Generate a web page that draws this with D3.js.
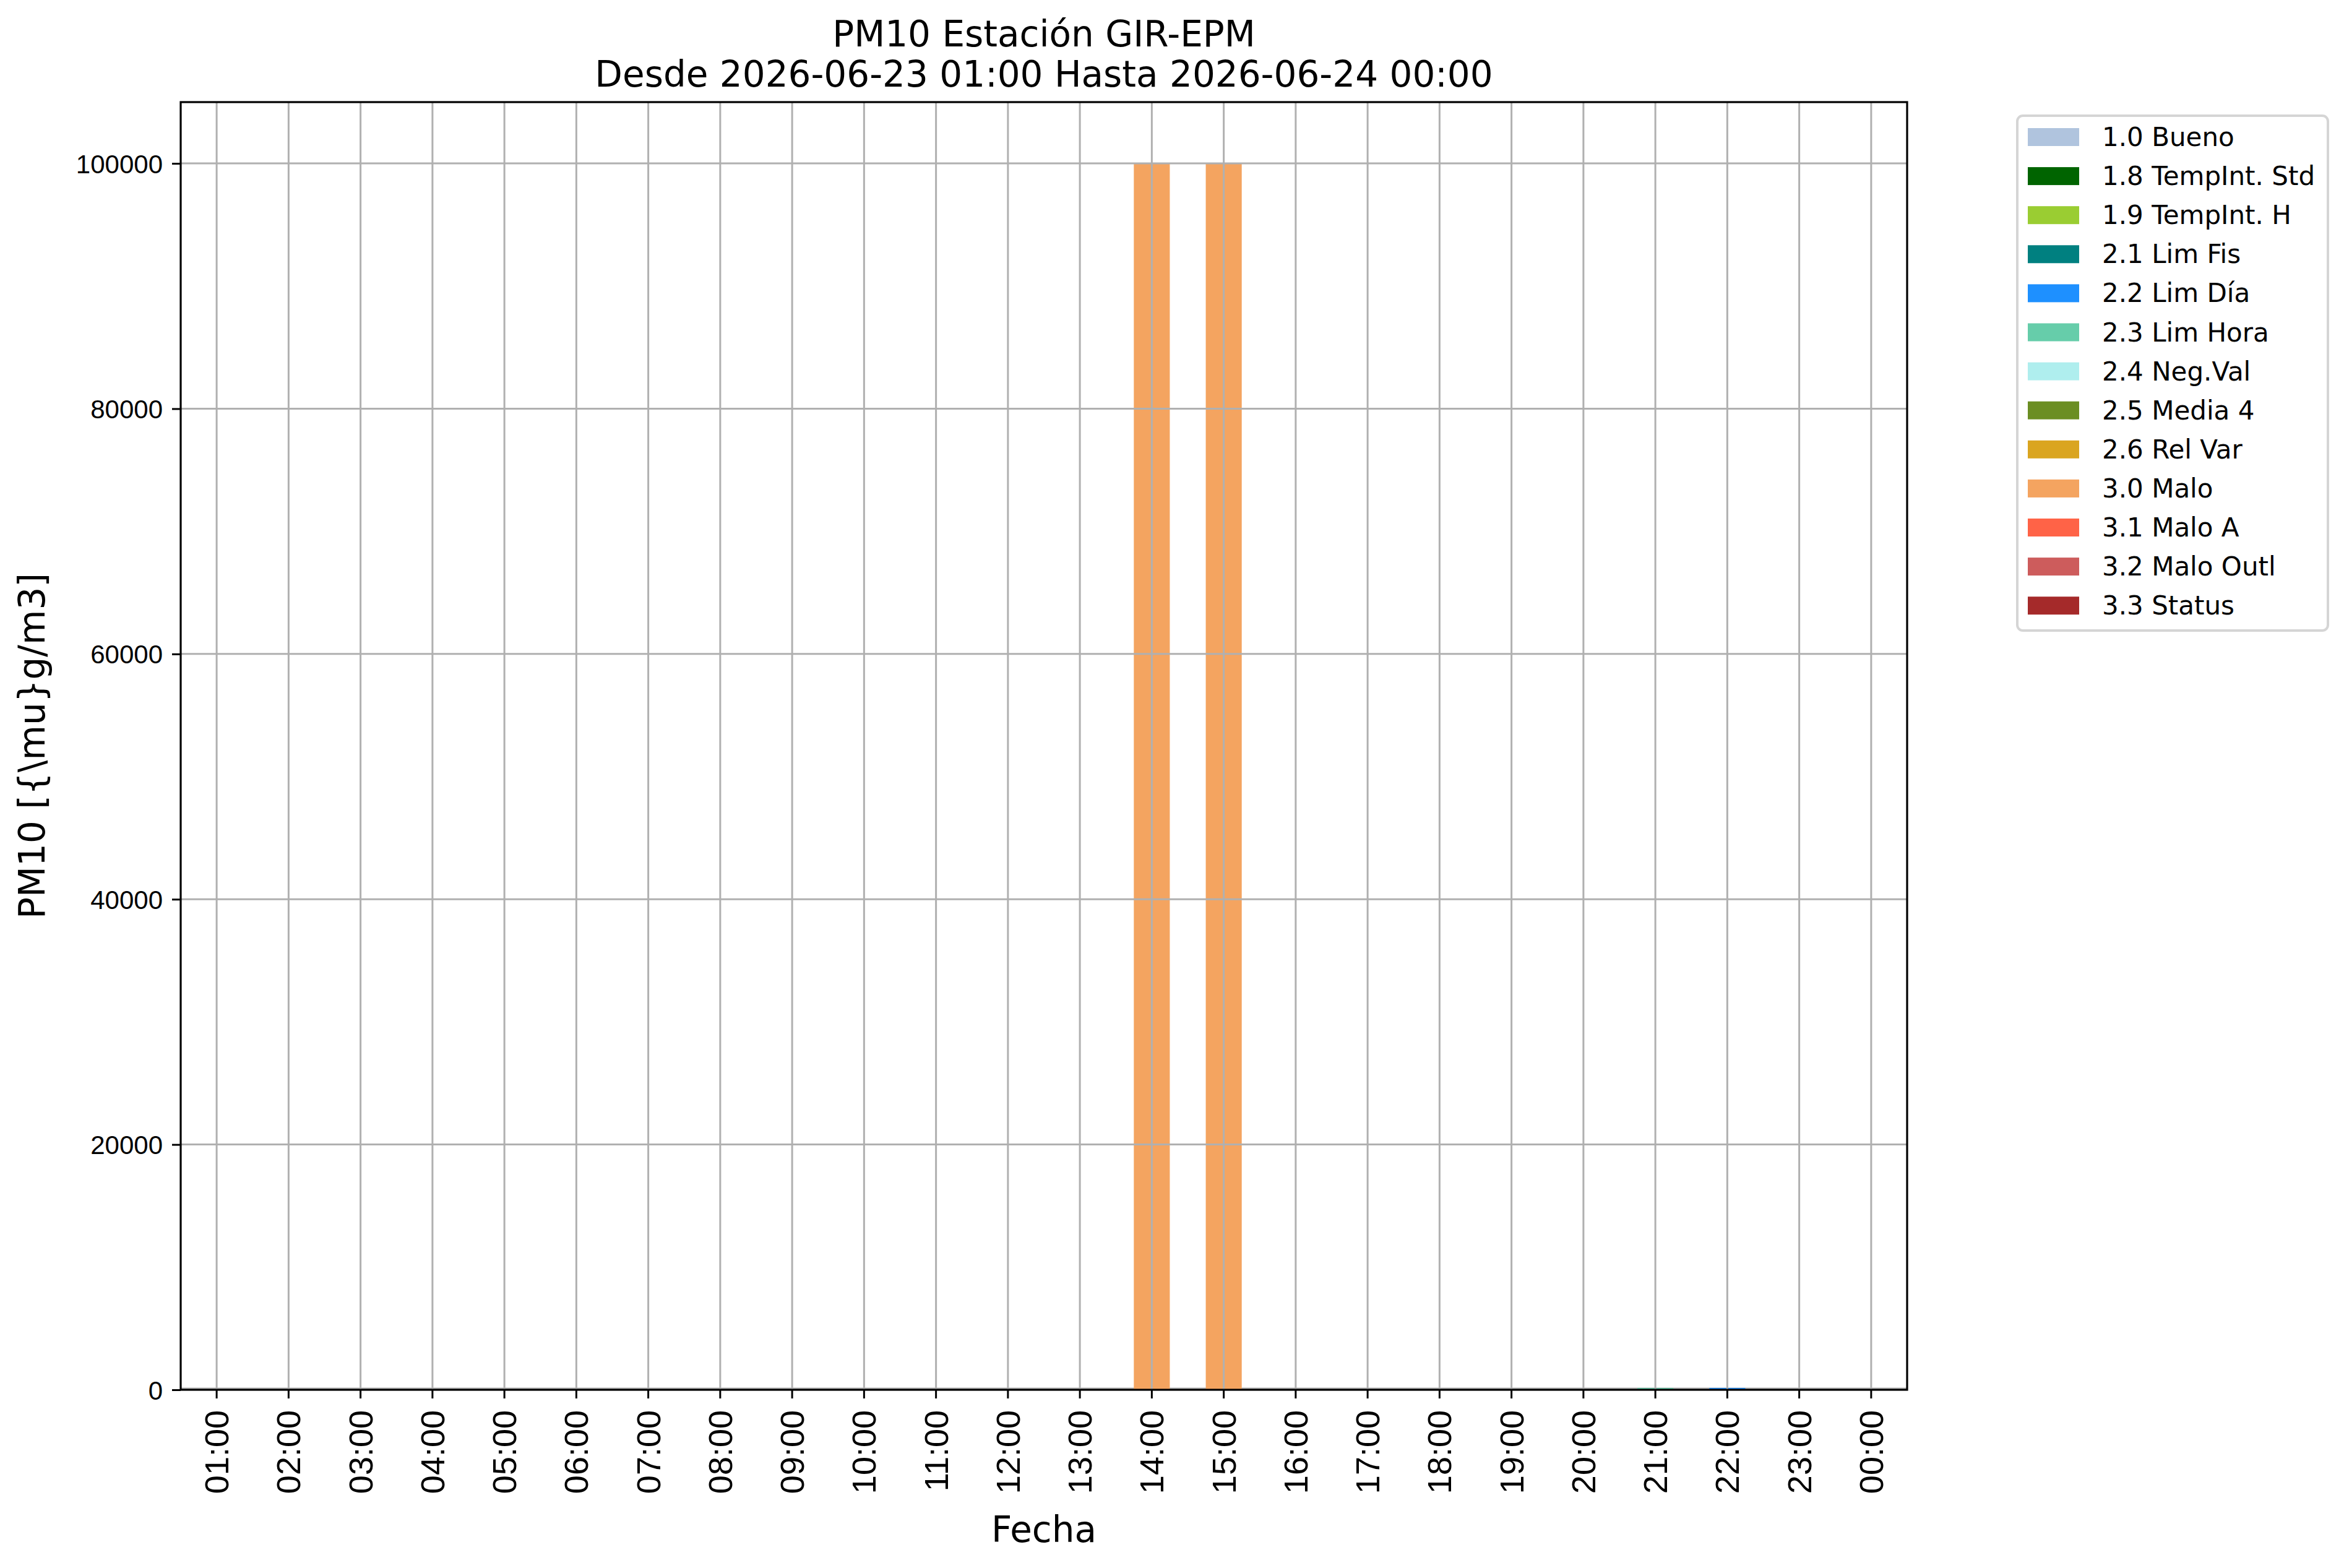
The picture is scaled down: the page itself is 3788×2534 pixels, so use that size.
<!DOCTYPE html>
<html>
<head>
<meta charset="utf-8">
<script src="https://cdn.jsdelivr.net/npm/d3@7"></script>
<style>
  html, body { margin: 0; padding: 0; background: #ffffff; }
  svg { display: block; font-family: "DejaVu Sans", sans-serif; }
</style>
</head>
<body>
<script>
// ---------------- DATA ----------------
const hours = ["01:00","02:00","03:00","04:00","05:00","06:00","07:00","08:00","09:00","10:00","11:00","12:00",
               "13:00","14:00","15:00","16:00","17:00","18:00","19:00","20:00","21:00","22:00","23:00","00:00"];

const seriesNames = ["1.0 Bueno","1.8 TempInt. Std","1.9 TempInt. H","2.1 Lim Fis","2.2 Lim Día","2.3 Lim Hora",
                     "2.4 Neg.Val","2.5 Media 4","2.6 Rel Var","3.0 Malo","3.1 Malo A","3.2 Malo Outl","3.3 Status"];

const seriesColors = ["#B0C4DE","#006400","#9ACD32","#008080","#1E90FF","#66CDAA",
                      "#AFEEEE","#6B8E23","#DAA520","#F4A460","#FF6347","#CD5C5C","#A52A2A"];

const bueno      = [0,0,0,0,0,0,0,0,0,0,0,0,0,0,0,0,0,0,0,0,0,0,0,0];
const tempIntStd = [0,0,0,0,0,0,0,0,0,0,0,0,0,0,0,0,0,0,0,0,0,0,0,0];
const tempIntH   = [0,0,0,0,0,0,0,0,0,0,0,0,0,0,0,0,0,0,0,0,0,0,0,0];
const limFis     = [0,0,0,0,0,0,0,0,0,0,0,0,0,0,0,0,0,0,0,0,0,0,0,0];
const limDia     = [0,0,0,0,0,0,0,0,0,0,0,0,0,0,0,0,0,0,0,0,0,150,0,0];
const limHora    = [0,0,0,0,0,0,0,0,0,0,0,0,0,0,0,0,0,0,0,0,150,0,0,0];
const negVal     = [0,0,0,0,0,0,0,0,0,0,0,0,0,0,0,0,0,0,0,0,0,0,0,0];
const media4     = [0,0,0,0,0,0,0,0,0,0,0,0,0,0,0,0,0,0,0,0,0,0,0,0];
const relVar     = [0,0,0,0,0,0,0,0,0,0,0,0,0,0,0,0,0,0,0,0,0,0,0,0];
const malo       = [0,0,0,0,0,0,0,0,0,0,0,0,0,100000,100000,0,0,0,0,0,0,0,0,0];
const maloA      = [0,0,0,0,0,0,0,0,0,0,0,0,0,0,0,0,0,0,0,0,0,0,0,0];
const maloOutl   = [0,0,0,0,0,0,0,0,0,0,0,0,0,0,0,0,0,0,0,0,0,0,0,0];
const status     = [0,0,0,0,0,0,0,0,0,0,0,0,0,0,0,0,0,0,0,0,0,0,0,0];

const seriesValues = [bueno,tempIntStd,tempIntH,limFis,limDia,limHora,negVal,media4,relVar,malo,maloA,maloOutl,status];

const yTicks = [0,20000,40000,60000,80000,100000];
const yMax = 105000;

const titleLines = ["PM10 Estación GIR-EPM","Desde 2026-06-23 01:00 Hasta 2026-06-24 00:00"];
const xLabel = "Fecha";
const yLabel = "PM10 [{\\mu}g/m3]";

// ---------------- LAYOUT ----------------
const W = 3788, H = 2534;
const plot = {left: 292, right: 3082, top: 165, bottom: 2246};

const svg = d3.select("body").append("svg").attr("width", W).attr("height", H);
svg.append("rect").attr("width", W).attr("height", H).attr("fill", "#ffffff");

const x = d3.scaleBand().domain(hours).range([plot.left, plot.right]).paddingInner(0.5).paddingOuter(0.25);
const y = d3.scaleLinear().domain([0, yMax]).range([plot.bottom, plot.top]);
const xc = h => x(h) + x.bandwidth() / 2;

// baseline gridline (under the bars)
svg.append("line")
  .attr("x1", plot.left).attr("x2", plot.right)
  .attr("y1", y(0) - 2).attr("y2", y(0) - 2)
  .attr("stroke", "#b0b0b0").attr("stroke-width", 3);

// table for stack
const table = hours.map((h, i) => {
  const row = {hour: h};
  seriesNames.forEach((s, j) => row[s] = seriesValues[j][i]);
  return row;
});
const stacked = d3.stack().keys(seriesNames)(table);

// bars
const gBars = svg.append("g");
stacked.forEach((layer, j) => {
  gBars.append("g").attr("fill", seriesColors[j])
    .selectAll("rect")
    .data(layer.filter(d => d[1] - d[0] > 0))
    .join("rect")
    .attr("x", d => x(d.data.hour))
    .attr("width", x.bandwidth())
    .attr("y", d => y(d[1]))
    .attr("height", d => y(d[0]) - y(d[1]));
});

// grid (drawn above bars)
const gGrid = svg.append("g").attr("stroke", "#b0b0b0").attr("stroke-width", 3);
gGrid.selectAll("line.v").data(hours).join("line")
  .attr("x1", d => xc(d)).attr("x2", d => xc(d))
  .attr("y1", plot.top).attr("y2", plot.bottom);
gGrid.selectAll("line.h").data(yTicks.filter(t => t > 0)).join("line")
  .attr("x1", plot.left).attr("x2", plot.right)
  .attr("y1", d => y(d)).attr("y2", d => y(d));

// axes using d3 axis generators
const xAxis = d3.axisBottom(x).tickSize(14).tickPadding(0).tickFormat(d => d);
const gx = svg.append("g").attr("transform", `translate(0,${plot.bottom})`).call(xAxis);
gx.select(".domain").remove();
gx.selectAll(".tick line").attr("stroke", "#000").attr("stroke-width", 3);
gx.selectAll(".tick text")
  .attr("font-size", 54).attr("fill", "#000")
  .attr("text-anchor", "end")
  .attr("dy", null)
  .attr("y", null)
  .attr("transform", "translate(19,33) rotate(-90)");

const yAxis = d3.axisLeft(y).tickValues(yTicks).tickSize(14).tickPadding(15).tickFormat(d3.format("d"));
const gy = svg.append("g").attr("transform", `translate(${plot.left},0)`).call(yAxis);
gy.select(".domain").remove();
gy.selectAll(".tick line").attr("stroke", "#000").attr("stroke-width", 3);
gy.selectAll(".tick text").attr("font-size", 42).attr("fill", "#000").attr("dy", "0.36em");

// spines
svg.append("rect")
  .attr("x", plot.left).attr("y", plot.top)
  .attr("width", plot.right - plot.left).attr("height", plot.bottom - plot.top)
  .attr("fill", "none").attr("stroke", "#000").attr("stroke-width", 3.2);

// title
const cx = (plot.left + plot.right) / 2;
svg.append("text").attr("x", cx).attr("y", 75).attr("text-anchor", "middle")
  .attr("font-size", 58).text(titleLines[0]);
svg.append("text").attr("x", cx).attr("y", 140).attr("text-anchor", "middle")
  .attr("font-size", 58).text(titleLines[1]);

// axis labels
svg.append("text").attr("x", cx).attr("y", 2492).attr("text-anchor", "middle")
  .attr("font-size", 58).text(xLabel);
svg.append("text")
  .attr("transform", `translate(72,${(plot.top + plot.bottom) / 2}) rotate(-90)`)
  .attr("text-anchor", "middle").attr("font-size", 58).text(yLabel);

// legend
const leg = {x: 3260, y: 187, w: 502, h: 832};
const gL = svg.append("g");
gL.append("rect").attr("x", leg.x).attr("y", leg.y).attr("width", leg.w).attr("height", leg.h)
  .attr("rx", 9).attr("ry", 9)
  .attr("fill", "#ffffff").attr("stroke", "#d5d5d5").attr("stroke-width", 4);
const rowStep = 63.1;
const items = gL.selectAll("g.item").data(seriesNames).join("g")
  .attr("transform", (d, i) => `translate(0,${207 + i * rowStep})`);
items.append("rect").attr("x", 3277).attr("y", 0).attr("width", 83).attr("height", 29)
  .attr("fill", (d, i) => seriesColors[i]);
items.append("text").attr("x", 3397).attr("y", 29).attr("font-size", 42).attr("fill", "#000").text(d => d);
</script>
</body>
</html>
